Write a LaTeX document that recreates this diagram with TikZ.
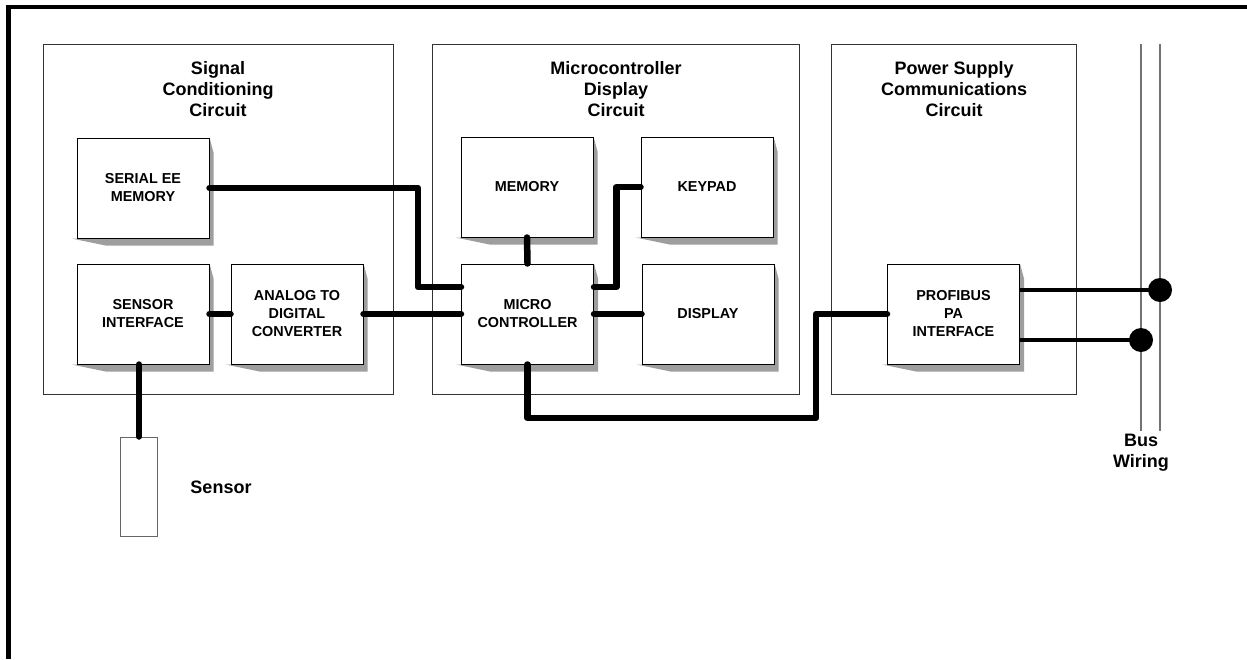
\documentclass[tikz,border=0pt]{standalone}
\usepackage{fontspec}
\setmainfont{Liberation Sans}
\usetikzlibrary{calc,backgrounds}
\def\dropshadow(#1){\fill[black!38] ($(#1.south west)+(-5,0)$) -- ($(#1.south west)+(29,7)$) -- ($(#1.south east)+(4,7)$) -- ($(#1.north east)+(4,15)$) -- (#1.north east) -- (#1.south east) -- cycle;}

\tikzset{
	ckt/.style={draw=black!80, line width=0.9pt, inner sep=0pt, minimum width=#1, minimum height=350pt},
	blk/.style={draw=black, line width=1pt, fill=white, inner sep=0pt, minimum width=132pt, minimum height=100pt, align=center, font=\fontsize{14.4}{18}\selectfont\bfseries},
	ttl/.style={align=center, font=\fontsize{18}{21}\selectfont\bfseries},
	wire/.style={line width=6.5pt, line cap=round, line join=round},
	tap/.style={line width=3.2pt},
	busline/.style={draw=black!55, line width=1.6pt},
	dot/.style={circle, fill=black, inner sep=0pt, minimum size=24pt},
}

\begin{document}
\begin{tikzpicture}[x=1pt,y=-1pt]
	%%%%% START %%%%%
	\useasboundingbox (0,0) rectangle (1247,659);
	\draw[line width=4.5pt] (8.5,659) -- (8.5,7) -- (1247,7);
	
	\node[ckt=350pt] (sigckt) at (218,219) {};
	\node[ckt=367pt] (mcuckt) at (615.5,219) {};
	\node[ckt=245pt] (pwrckt) at (954,219) {};
	\node[ttl] (sigttl) at (218,89) {Signal\\Conditioning\\Circuit};
	\node[ttl] (mcuttl) at (616,89) {Microcontroller\\Display\\Circuit};
	\node[ttl] (pwrttl) at (954,89) {Power Supply\\Communications\\Circuit};
	
	\node[blk] (serial) at (143,188) {SERIAL EE\\MEMORY};
	\node[blk] (sensif) at (143,314) {SENSOR\\INTERFACE};
	\node[blk] (adc) at (297,314) {ANALOG TO\\DIGITAL\\CONVERTER};
	\node[blk] (memory) at (527,187) {MEMORY};
	\node[blk] (keypad) at (707,187) {KEYPAD};
	\node[blk] (micro) at (527.5,314) {MICRO\\CONTROLLER};
	\node[blk] (display) at (708,314) {DISPLAY};
	\node[blk] (profibus) at (953.5,314) {PROFIBUS\\PA\\INTERFACE};
	
	\begin{scope}[on background layer]
		\foreach \b in {serial,sensif,adc,memory,keypad,micro,display,profibus} {\dropshadow(\b)}
	\end{scope}
	
	\node[draw=black!60, line width=1pt, minimum width=37pt, minimum height=99pt, inner sep=0pt] (sensor) at (139,486.5) {};
	\node[ttl] (sensorlbl) at (221,487) {Sensor};
	
	% thick wiring
	\coordinate (mcnw) at ($(micro.west)+(0,-27)$);
	\coordinate (mcne) at ($(micro.east)+(0,-27)$);
	\coordinate (ret) at (816,418);
	\draw[wire] (serial.east) -| ($(mcnw)+(-43,0)$) -- (mcnw);
	\draw[wire] (mcne) -| ($(keypad.west)+(-24,0)$) -- (keypad.west);
	\draw[wire] (memory.south) -- (micro.north);
	\draw[wire] (sensif.east) -- (adc.west);
	\draw[wire] (adc.east) -- (micro.west);
	\draw[wire] (micro.east) -- (display.west);
	\draw[wire] (micro.south) |- (ret) |- (profibus.west);
	\draw[wire] (sensor.north |- sensif.south) -- (sensor.north);
	
	% bus
	\coordinate (busatop) at (1141,44);
	\coordinate (busabot) at (1141,431);
	\coordinate (busbtop) at (1160,44);
	\coordinate (busbbot) at (1160,431);
	\draw[busline] (busatop) -- (busabot);
	\draw[busline] (busbtop) -- (busbbot);
	\node[dot] (tapa) at (1160,290) {};
	\node[dot] (tapb) at (1141,340) {};
	\draw[tap] (profibus.east |- tapa) -- (tapa.center);
	\draw[tap] (profibus.east |- tapb) -- (tapb.center);
	\node[ttl] (buslbl) at (1141,453) {Bus\\Wiring};
	
	%%%%% END %%%%%
\end{tikzpicture}
\end{document}
